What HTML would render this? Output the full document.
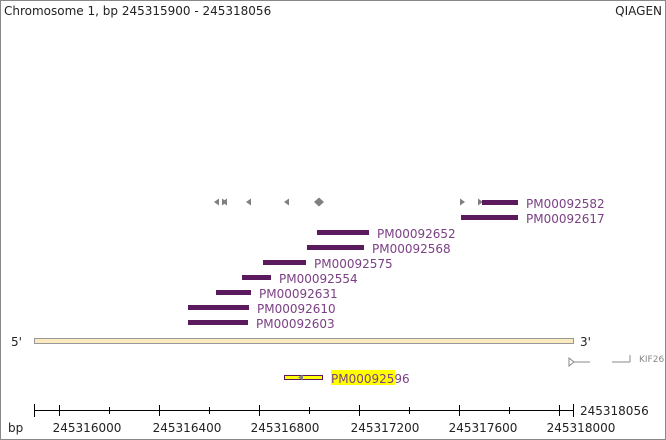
<!DOCTYPE html>
<html><head><meta charset="utf-8"><style>
html,body{margin:0;padding:0;background:#fff}
svg{display:block}
text{font-family:"DejaVu Sans","Liberation Sans",sans-serif;font-size:12px}
.l{fill:#7b3f85}
.b{fill:#5c1a5e}
</style></head><body>
<svg width="666" height="440" xmlns="http://www.w3.org/2000/svg">
<rect x="0.5" y="0.5" width="665" height="439" fill="#fff" stroke="#888"/>
<text x="4" y="15" fill="#222">Chromosome 1, bp 245315900 - 245318056</text>
<text x="662" y="15" fill="#222" text-anchor="end">QIAGEN</text>
<g fill="#808080">
<polygon points="214,202 219,198.5 219,205.5"/>
<polygon points="227,202 222,198.5 222,205.5"/>
<polygon points="222,202 227,198.5 227,205.5"/>
<polygon points="246,202 251,198.5 251,205.5"/>
<polygon points="284,202 289,198.5 289,205.5"/>
<polygon points="314,202 319,197.5 324,202 319,206.5"/>
<polygon points="465,202 460,198.5 460,205.5"/>
<polygon points="483,202 478,198.5 478,205.5"/>
</g>
<rect class="b" x="482" y="200" width="36" height="5"/>
<rect class="b" x="461" y="215" width="57" height="5"/>
<rect class="b" x="317" y="230" width="52" height="5"/>
<rect class="b" x="307" y="245" width="57" height="5"/>
<rect class="b" x="263" y="260" width="43" height="5"/>
<rect class="b" x="242" y="275" width="29" height="5"/>
<rect class="b" x="216" y="290" width="35" height="5"/>
<rect class="b" x="188" y="305" width="61" height="5"/>
<rect class="b" x="188" y="320" width="60" height="5"/>
<text class="l" x="526" y="208">PM00092582</text>
<text class="l" x="526" y="223">PM00092617</text>
<text class="l" x="377" y="238">PM00092652</text>
<text class="l" x="372" y="253">PM00092568</text>
<text class="l" x="314" y="268">PM00092575</text>
<text class="l" x="279" y="283">PM00092554</text>
<text class="l" x="259" y="298">PM00092631</text>
<text class="l" x="257" y="313">PM00092610</text>
<text class="l" x="256" y="328">PM00092603</text>
<rect x="34.5" y="338.5" width="539" height="5" fill="#fbe9c0" stroke="#999"/>
<text x="11" y="346" fill="#222">5'</text>
<text x="580" y="346" fill="#222">3'</text>
<g stroke="#888" fill="none">
<polygon points="569,358 574,362 569,366" fill="#fff"/>
<line x1="574" y1="362" x2="590" y2="362"/>
<line x1="612" y1="362" x2="630" y2="362"/>
<line x1="630" y1="362" x2="630" y2="355"/>
</g>
<text x="639" y="362" fill="#888" style="font-size:9px">KIF26</text>
<rect x="284.5" y="375.5" width="38" height="4" fill="#ffff00" stroke="#5c1a5e"/>
<polygon points="298,377.5 303,374.5 303,380.5" fill="#808080"/>
<rect x="331" y="370" width="64" height="15" fill="#ffff00"/>
<text class="l" x="331" y="383">PM00092596</text>
<g stroke="#000" stroke-width="1">
<line x1="34" y1="410.5" x2="574" y2="410.5"/>
<line x1="34.5" y1="404" x2="34.5" y2="417"/>
<line x1="573.5" y1="404" x2="573.5" y2="417"/>
<line x1="59.5" y1="405" x2="59.5" y2="416"/>
<line x1="109.5" y1="407" x2="109.5" y2="414"/>
<line x1="159.5" y1="405" x2="159.5" y2="416"/>
<line x1="209.5" y1="407" x2="209.5" y2="414"/>
<line x1="259.5" y1="405" x2="259.5" y2="416"/>
<line x1="309.5" y1="407" x2="309.5" y2="414"/>
<line x1="359.5" y1="405" x2="359.5" y2="416"/>
<line x1="409.5" y1="407" x2="409.5" y2="414"/>
<line x1="459.5" y1="405" x2="459.5" y2="416"/>
<line x1="509.5" y1="407" x2="509.5" y2="414"/>
<line x1="559.5" y1="405" x2="559.5" y2="416"/>
</g>
<text x="580" y="415" fill="#222">245318056</text>
<text x="8" y="432" fill="#222">bp</text>
<g fill="#222" text-anchor="middle">
<text x="87" y="432">245316000</text>
<text x="187" y="432">245316400</text>
<text x="285" y="432">245316800</text>
<text x="385" y="432">245317200</text>
<text x="483" y="432">245317600</text>
<text x="581" y="432">245318000</text>
</g>
</svg>
</body></html>
